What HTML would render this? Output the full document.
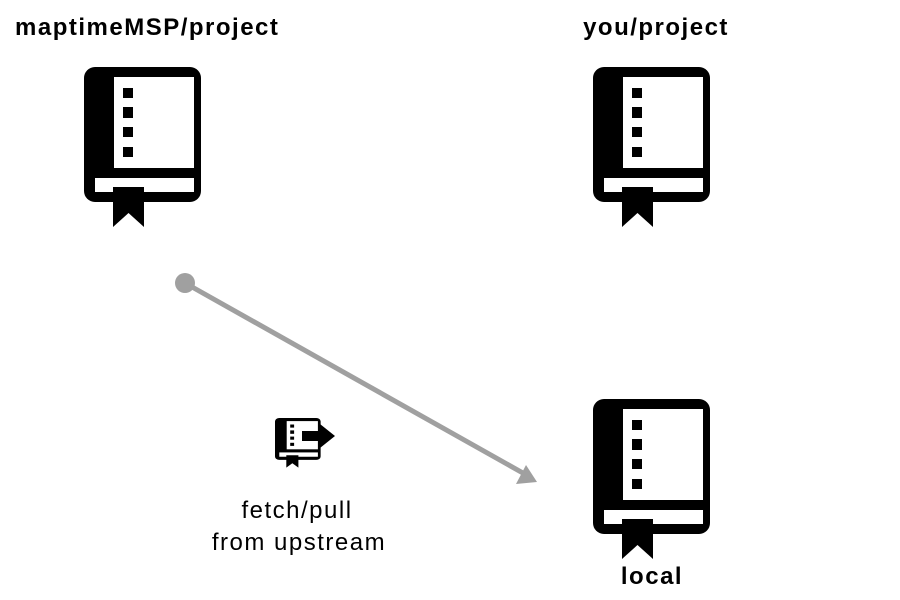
<!DOCTYPE html>
<html><head><style>body{margin:0;background:#fff}svg{display:block}</style></head><body>
<svg width="900" height="600" xmlns="http://www.w3.org/2000/svg" font-family="Liberation Sans, sans-serif">
<defs>
<g id="book">
<rect x="0" y="0" width="117" height="135" rx="11" fill="#000"/>
<rect x="30" y="10" width="80" height="91" fill="#fff"/>
<rect x="11" y="111" width="99" height="14" fill="#fff"/>
<rect x="39" y="21" width="10" height="10"/><rect x="39" y="40" width="10" height="11"/><rect x="39" y="60" width="10" height="10"/><rect x="39" y="80" width="10" height="10"/>
<path d="M29 120H60V160L44.5 146L29 160Z" fill="#000"/>
</g>
</defs>
<text x="15" y="35" font-size="24" font-weight="bold" letter-spacing="1.5">maptimeMSP/project</text>
<text x="656" y="35" font-size="24" font-weight="bold" letter-spacing="1.5" text-anchor="middle">you/project</text>
<use href="#book" x="84" y="67"/>
<use href="#book" x="593" y="67"/>
<use href="#book" x="593" y="399"/>
<text x="652" y="584" font-size="24" font-weight="bold" letter-spacing="1.5" text-anchor="middle">local</text>
<circle cx="185" cy="283" r="10" fill="#a0a0a0"/>
<line x1="185" y1="283" x2="530" y2="477" stroke="#a0a0a0" stroke-width="5"/>
<path d="M537 482L516 484L526 465Z" fill="#a0a0a0"/>
<g transform="translate(275,418) scale(0.39,0.31)"><use href="#book"/></g>
<rect x="302" y="431" width="20" height="10" fill="#000"/>
<path d="M320 424L335 436L320 448Z" fill="#000"/>
<text x="297" y="518" font-size="24" letter-spacing="1.5" text-anchor="middle">fetch/pull</text>
<text x="299" y="550" font-size="24" letter-spacing="1.5" text-anchor="middle">from upstream</text>
</svg>
</body></html>
